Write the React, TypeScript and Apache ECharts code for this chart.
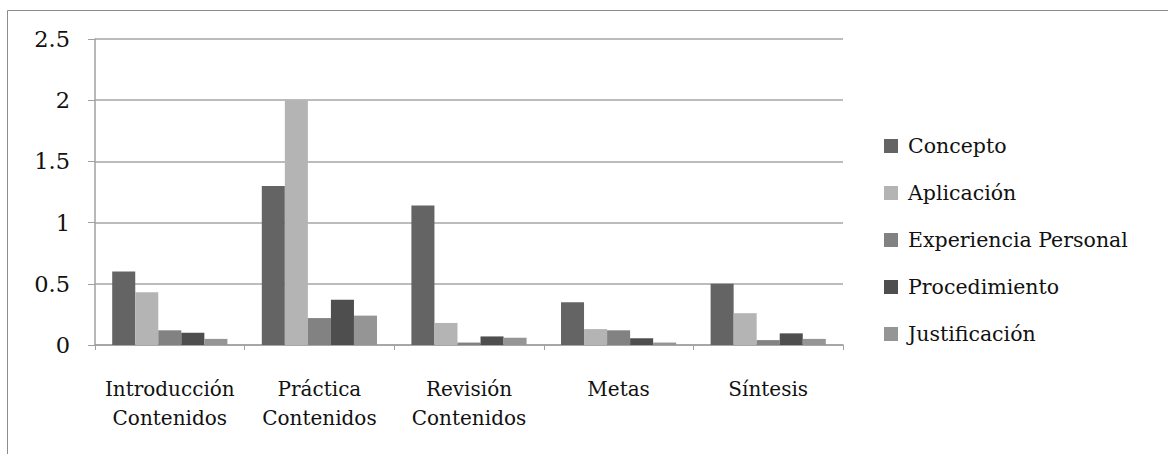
import React, { useEffect, useRef } from "react";
import * as echarts from "echarts";

const categories = [
  "Introducción\nContenidos",
  "Práctica\nContenidos",
  "Revisión\nContenidos",
  "Metas",
  "Síntesis",
];
const concepto = [0.6, 1.3, 1.14, 0.35, 0.5];
const aplicacion = [0.43, 2.0, 0.18, 0.13, 0.26];
const experiencia = [0.12, 0.22, 0.02, 0.12, 0.04];
const procedimiento = [0.1, 0.37, 0.07, 0.055, 0.095];
const justificacion = [0.05, 0.24, 0.06, 0.02, 0.05];
const seriesNames = ["Concepto", "Aplicación", "Experiencia Personal", "Procedimiento", "Justificación"];
const seriesColors = ["#646464", "#b4b4b4", "#828282", "#4e4e4e", "#959595"];

const FONT = "DejaVu Serif";

export default function App() {
  const ref = useRef<HTMLDivElement>(null);
  useEffect(() => {
    if (!ref.current) return;
    const chart = echarts.init(ref.current, undefined, { renderer: "svg" });
    const values = [concepto, aplicacion, experiencia, procedimiento, justificacion];
    chart.setOption({
      animation: false,
      backgroundColor: "#ffffff",
      textStyle: { fontFamily: FONT },
      graphic: [
        {
          type: "rect",
          shape: { x: 7.5, y: 10.5, width: 1200, height: 500 },
          style: { fill: "none", stroke: "#8c8c8c", lineWidth: 1 },
          silent: true,
        },
      ],
      grid: { left: 95, right: 325, top: 39, bottom: 109, containLabel: false },
      legend: {
        orient: "vertical",
        left: 879,
        top: 129,
        itemWidth: 14,
        itemHeight: 14,
        itemGap: 23,
        icon: "rect",
        textStyle: {
          fontFamily: FONT,
          fontSize: 20.5,
          lineHeight: 24,
          color: "#111111",
          padding: [0, 0, 0, 5],
        },
        data: seriesNames,
      },
      xAxis: {
        type: "category",
        data: categories,
        boundaryGap: true,
        axisLine: { lineStyle: { color: "#a0a0a0", width: 1.5 } },
        axisTick: { show: true, length: 5, lineStyle: { color: "#a0a0a0" } },
        axisLabel: {
          fontFamily: FONT,
          fontSize: 20,
          lineHeight: 29,
          color: "#111111",
          margin: 29,
          interval: 0,
        },
      },
      yAxis: {
        type: "value",
        min: 0,
        max: 2.5,
        interval: 0.5,
        axisLine: { show: true, lineStyle: { color: "#a0a0a0", width: 1.5 } },
        axisTick: { show: true, length: 7, lineStyle: { color: "#a0a0a0" } },
        splitLine: { lineStyle: { color: "#a6a6a6", width: 1.5 } },
        axisLabel: {
          fontFamily: FONT,
          fontSize: 22.5,
          color: "#111111",
          margin: 25,
        },
      },
      series: seriesNames.map((name, i) => ({
        name,
        type: "bar",
        data: values[i],
        barGap: "0%",
        barCategoryGap: "23%",
        itemStyle: { color: seriesColors[i] },
      })),
    });
    return () => chart.dispose();
  }, []);
  return (
    <div
      ref={ref}
      style={{ position: "fixed", left: 0, top: 0, width: 1168, height: 454 }}
    />
  );
}
